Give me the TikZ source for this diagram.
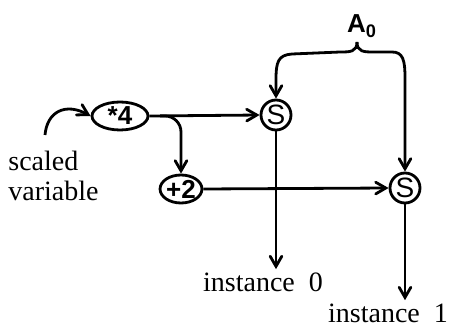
\documentclass[tikz,border=0pt]{standalone}
\usepackage{fontspec}
\setmainfont{Liberation Serif}
\setsansfont{Liberation Sans}
\usetikzlibrary{shapes,arrows}

\tikzstyle{op}=[draw,ellipse,inner sep=0pt,font=\sffamily\bfseries\fontsize{13}{14}\selectfont]
\tikzstyle{sel}=[draw,circle,inner sep=0pt,minimum size=15pt,font=\sffamily\fontsize{14}{15}\selectfont]
\tikzstyle{word}=[font=\fontsize{14}{15}\selectfont,inner sep=1pt]

\begin{document}
\begin{tikzpicture}[x=0.5pt,y=-0.5pt,>=angle 60,line width=1.4pt]
\useasboundingbox (0,0) rectangle (451,326);
\node[op,minimum width=28pt,minimum height=14pt] (mul) at (120,116) {*4};
\node[op,minimum width=20pt,minimum height=14pt] (add) at (181,189) {+2};
\node[sel] (s0) at (276,115) {S};
\node[sel] (s1) at (405,188) {S};
\node[word,anchor=west,align=left] (sv) at (5,176) {scaled\\variable};
\node[word] (i0) at (263,282) {instance\ \ 0};
\node[word] (i1) at (388,313) {instance\ \ 1};
\node[font=\sffamily\bfseries\fontsize{13}{14}\selectfont] (a0) at (362,26) {A\textsubscript{0}};
\coordinate (in) at (45,135);
\coordinate (br) at (160,116);
\coordinate (top) at (357,42);
% input and branches
\draw[->] (in) .. controls (47,112) and (65,102) .. (mul.west);
\draw[->] (mul.east) -- (s0.west);
\draw[->,rounded corners=8pt] (br) -| (add.north);
\draw[->] (add.east) -- (s1.west);
% brace
\draw[->] (top) .. controls (357,52) and (350,52) .. (340,52) -- (292,54)
  .. controls (278,55) and (276,62) .. (276,80) -- (s0.north);
\draw[->] (top) .. controls (357,52) and (364,52) .. (374,52) -- (392,52)
  .. controls (403,52) and (405,60) .. (405,78) -- (s1.north);
% outputs
\draw[->] (s0.south) -- (s0.south |- i0.north);
\draw[->] (s1.south) -- (s1.south |- i1.north);
\end{tikzpicture}
\end{document}
